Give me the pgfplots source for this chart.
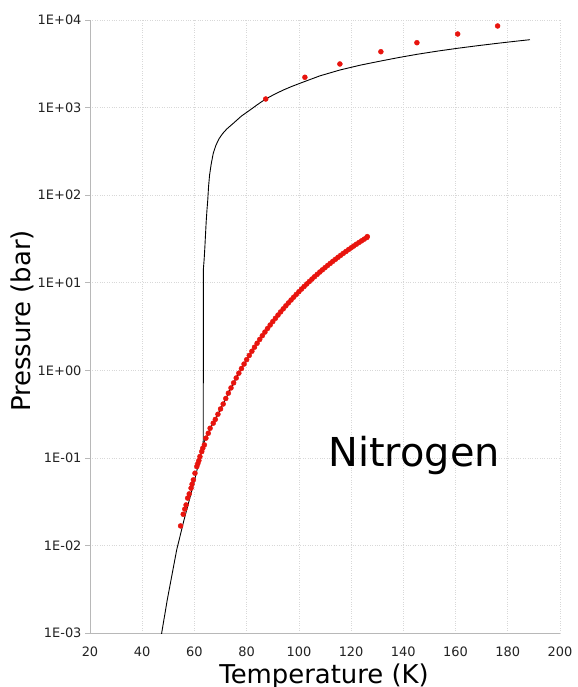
\documentclass[border=0pt]{standalone}
\usepackage{pgfplots}
\pgfplotsset{compat=1.18}
\usepackage{fontspec}
\setmainfont{DejaVu Sans}
\definecolor{dotred}{HTML}{E8140E}
\definecolor{gridgray}{HTML}{D8D8D8}
\definecolor{axgray}{HTML}{B8B8B8}
\definecolor{ticktext}{HTML}{222222}

\pgfplotstableread{
T P
54.7 0.0167
55.7 0.0227
56.3 0.0260
56.8 0.0290
57.4 0.0347
58.0 0.0388
58.7 0.0451
59.1 0.0500
59.6 0.0561
60.2 0.0668
60.9 0.0796
61.3 0.0860
61.7 0.0931
62.1 0.1035
62.8 0.118
63.2 0.129
63.8 0.1406
64.4 0.168
65.3 0.191
66.0 0.218
67.2 0.249
68 0.275
69 0.315
70 0.362
71 0.4118
72 0.4763
73 0.5484
74 0.6290
75 0.7185
76 0.8173
77 0.9267
78 1.0466
79 1.178
80 1.322
81 1.479
82 1.650
83 1.835
84 2.035
85 2.251
86 2.484
87 2.734
88 3.002
89 3.289
90 3.596
91 3.923
92 4.270
93 4.639
94 5.030
95 5.445
96 5.885
97 6.348
98 6.835
99 7.349
100 7.889
101 8.456
102 9.050
103 9.672
104 10.32
105 11.00
106 11.71
107 12.45
108 13.23
109 14.03
110 14.86
111 15.73
112 16.63
113 17.56
114 18.52
115 19.52
116 20.56
117 21.62
118 22.72
119 23.86
120 25.03
121 26.24
122 27.49
123 28.77
124 30.08
125 31.43
126 32.82
126.2 33.6
}\vapordots

\pgfplotstableread{
T P
47.0 0.00082
47.45 0.0010
49.6 0.0024
53.2 0.0089
56.0 0.0195
60.2 0.058
63.4 0.145
64.4 0.168
65.3 0.191
66.0 0.218
67.2 0.249
68 0.275
69 0.315
70 0.362
72 0.4763
74 0.6290
76 0.8173
78 1.0466
80 1.322
82 1.650
84 2.035
86 2.484
88 3.002
90 3.596
92 4.270
94 5.030
96 5.885
98 6.835
100 7.889
102 9.050
104 10.32
106 11.71
108 13.23
110 14.86
112 16.63
114 18.52
116 20.56
118 22.72
120 25.03
122 27.49
124 30.08
126.2 33.6
}\vaporline

\pgfplotstableread{
T P
63.35 0.145
63.4 1.0
63.4 14.0
63.55 16.0
63.7 18.2
63.85 21.5
64.0 25.8
64.25 36
64.5 50
64.8 68
65.1 88
65.4 125
65.8 170
66.4 225
67.2 300
68.2 370
69.4 440
70.8 505
72.4 570
74.9 662
78.0 800
81.3 939
84.2 1085
87.3 1253
90.5 1410
94.0 1585
97.2 1740
100.4 1893
108.0 2300
115.7 2685
123.5 3050
131.4 3404
138.3 3730
145.2 4055
153.0 4410
160.8 4755
168.5 5090
176.1 5420
182.3 5690
188.5 5960
}\meltline

\pgfplotstableread{
T P
87.3 1253
102.3 2218
115.7 3146
131.4 4345
145.2 5505
160.8 6920
176.1 8545
}\meltdots

\begin{document}
\begin{tikzpicture}
\useasboundingbox (0,0) rectangle (578bp,687bp);
\begin{axis}[
  at={(90bp,54bp)}, anchor=south west,
  width=470bp, height=613bp, scale only axis,
  ymode=log,
  xmin=20, xmax=200, ymin=1e-3, ymax=1e4,
  xtick={20,40,...,200},
  xticklabels={20,40,60,80,100,120,140,160,180,200},
  ytick={1e-3,1e-2,1e-1,1,10,100,1000,10000},
  yticklabels={1E-03,1E-02,1E-01,1E+00,1E+01,1E+02,1E+03,1E+04},
  minor ytick={}, yminorticks=false,
  axis x line*=bottom, axis y line*=left,
  axis line style={axgray, line width=0.8pt, -},
  tick align=outside,
  major tick length=5bp,
  tick style={axgray, line width=0.6pt},
  xtick style={draw=none},
  grid=major,
  major grid style={gridgray, dotted, line width=0.6pt},
  ticklabel style={font=\fontsize{13}{15}\selectfont, text=ticktext},
  xticklabel style={yshift=-5bp},
  xlabel={Temperature (K)},
  ylabel={Pressure (bar)},
  label style={font=\fontsize{26}{30}\selectfont, text=black},
  xlabel style={at={(axis description cs:0.498,0)}, anchor=base, yshift=-50bp},
  ylabel style={at={(axis description cs:-0.144,0.509)}, anchor=center, rotate=0},
  clip=true,
]
\addplot[only marks, mark=*, mark size=2.5bp, color=dotred, mark options={draw=dotred, fill=dotred}] table[x=T, y=P] {\vapordots};
\addplot[only marks, mark=*, mark size=2.5bp, color=dotred, mark options={draw=dotred, fill=dotred}] table[x=T, y=P] {\meltdots};
\addplot[black, line width=0.9pt, no marks, line join=round] table[x=T, y=P] {\vaporline};
\addplot[black, line width=0.9pt, no marks, line join=round] table[x=T, y=P] {\meltline};
\node[anchor=base west, font=\fontsize{40}{46}\selectfont, inner sep=0pt] at (axis cs:111.2,0.0789) {Nitrogen};
\end{axis}
\end{tikzpicture}
\end{document}
